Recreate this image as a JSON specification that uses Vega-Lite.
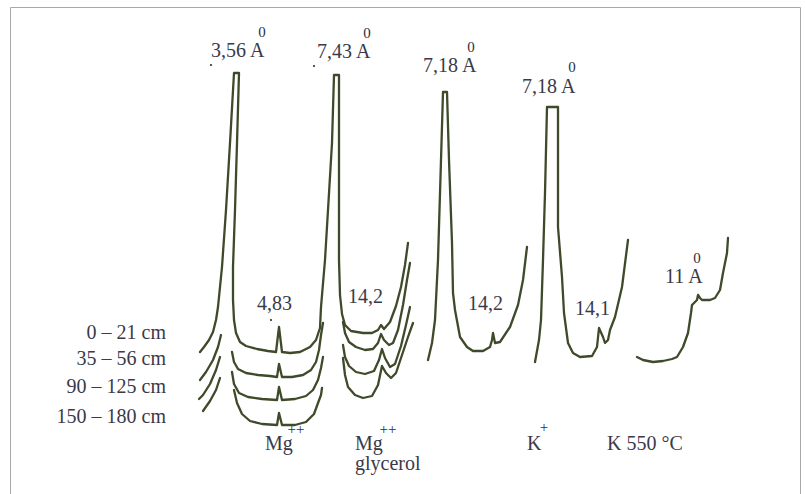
{
  "$schema": "https://vega.github.io/schema/vega-lite/v6.json",
  "width": 805,
  "height": 494,
  "autosize": {"type": "fit", "contains": "padding"},
  "padding": {"left": 10, "top": 7, "right": 5, "bottom": 0},
  "background": "#ffffff",
  "config": {"view": {"stroke": "#a8a8a8", "strokeWidth": 1}},
  "datasets": {
    "curves": [
      {"s":"A","i":1,"x":200,"y":352},{"s":"A","i":2,"x":204,"y":347},{"s":"A","i":3,"x":209,"y":340},{"s":"A","i":4,"x":213,"y":332},{"s":"A","i":5,"x":216,"y":320},{"s":"A","i":6,"x":218,"y":307},{"s":"A","i":7,"x":222,"y":267},{"s":"A","i":8,"x":226,"y":210},{"s":"A","i":9,"x":230,"y":143},{"s":"A","i":10,"x":234,"y":73},{"s":"A","i":11,"x":239,"y":73},{"s":"A","i":12,"x":237,"y":143},{"s":"A","i":13,"x":235,"y":210},{"s":"A","i":14,"x":233,"y":267},{"s":"A","i":15,"x":233,"y":300},{"s":"A","i":16,"x":234,"y":320},{"s":"A","i":17,"x":236,"y":333},{"s":"A","i":18,"x":240,"y":342},{"s":"A","i":19,"x":246,"y":346},{"s":"A","i":20,"x":257,"y":349},{"s":"A","i":21,"x":268,"y":351},{"s":"A","i":22,"x":276,"y":352},{"s":"A","i":23,"x":279,"y":327},{"s":"A","i":24,"x":282,"y":352},{"s":"A","i":25,"x":290,"y":353},{"s":"A","i":26,"x":300,"y":352},{"s":"A","i":27,"x":310,"y":347},{"s":"A","i":28,"x":316,"y":340},{"s":"A","i":29,"x":320,"y":328},{"s":"A","i":30,"x":321,"y":307},{"s":"A","i":31,"x":325,"y":260},{"s":"A","i":32,"x":328,"y":210},{"s":"A","i":33,"x":332,"y":143},{"s":"A","i":34,"x":334,"y":75},{"s":"A","i":35,"x":339,"y":75},{"s":"A","i":36,"x":339,"y":143},{"s":"A","i":37,"x":339,"y":210},{"s":"A","i":38,"x":339,"y":260},{"s":"A","i":39,"x":340,"y":295},{"s":"A","i":40,"x":342,"y":314},{"s":"A","i":41,"x":345,"y":325},{"s":"A","i":42,"x":351,"y":331},{"s":"A","i":43,"x":363,"y":333},{"s":"A","i":44,"x":372,"y":333},{"s":"A","i":45,"x":378,"y":330},{"s":"A","i":46,"x":381,"y":325},{"s":"A","i":47,"x":384,"y":329},{"s":"A","i":48,"x":390,"y":322},{"s":"A","i":49,"x":396,"y":306},{"s":"A","i":50,"x":401,"y":287},{"s":"A","i":51,"x":405,"y":265},{"s":"A","i":52,"x":408,"y":243},
      {"s":"F2","i":1,"x":221,"y":335},{"s":"F2","i":2,"x":218,"y":347},{"s":"F2","i":3,"x":213,"y":360},{"s":"F2","i":4,"x":206,"y":372},{"s":"F2","i":5,"x":200,"y":380},
      {"s":"F3","i":1,"x":220,"y":357},{"s":"F3","i":2,"x":216,"y":370},{"s":"F3","i":3,"x":210,"y":384},{"s":"F3","i":4,"x":203,"y":395},{"s":"F3","i":5,"x":199,"y":399},
      {"s":"F4","i":1,"x":220,"y":378},{"s":"F4","i":2,"x":216,"y":390},{"s":"F4","i":3,"x":210,"y":401},{"s":"F4","i":4,"x":203,"y":411},
      {"s":"B","i":1,"x":232,"y":352},{"s":"B","i":2,"x":234,"y":362},{"s":"B","i":3,"x":238,"y":369},{"s":"B","i":4,"x":246,"y":373},{"s":"B","i":5,"x":258,"y":375},{"s":"B","i":6,"x":270,"y":376},{"s":"B","i":7,"x":277,"y":377},{"s":"B","i":8,"x":279,"y":364},{"s":"B","i":9,"x":282,"y":377},{"s":"B","i":10,"x":292,"y":377},{"s":"B","i":11,"x":303,"y":375},{"s":"B","i":12,"x":311,"y":370},{"s":"B","i":13,"x":316,"y":362},{"s":"B","i":14,"x":319,"y":350},{"s":"B","i":15,"x":321,"y":335},{"s":"B","i":16,"x":323,"y":323},
      {"s":"C","i":1,"x":232,"y":372},{"s":"C","i":2,"x":234,"y":384},{"s":"C","i":3,"x":239,"y":393},{"s":"C","i":4,"x":248,"y":397},{"s":"C","i":5,"x":262,"y":399},{"s":"C","i":6,"x":277,"y":400},{"s":"C","i":7,"x":279,"y":387},{"s":"C","i":8,"x":282,"y":400},{"s":"C","i":9,"x":295,"y":399},{"s":"C","i":10,"x":306,"y":396},{"s":"C","i":11,"x":313,"y":390},{"s":"C","i":12,"x":318,"y":380},{"s":"C","i":13,"x":321,"y":368},{"s":"C","i":14,"x":323,"y":357},
      {"s":"D","i":1,"x":234,"y":390},{"s":"D","i":2,"x":237,"y":403},{"s":"D","i":3,"x":242,"y":414},{"s":"D","i":4,"x":250,"y":421},{"s":"D","i":5,"x":262,"y":424},{"s":"D","i":6,"x":277,"y":425},{"s":"D","i":7,"x":279,"y":413},{"s":"D","i":8,"x":282,"y":425},{"s":"D","i":9,"x":295,"y":425},{"s":"D","i":10,"x":306,"y":422},{"s":"D","i":11,"x":314,"y":414},{"s":"D","i":12,"x":318,"y":403},{"s":"D","i":13,"x":321,"y":395},{"s":"D","i":14,"x":322,"y":388},
      {"s":"G2","i":1,"x":343,"y":322},{"s":"G2","i":2,"x":345,"y":333},{"s":"G2","i":3,"x":349,"y":342},{"s":"G2","i":4,"x":356,"y":347},{"s":"G2","i":5,"x":365,"y":350},{"s":"G2","i":6,"x":373,"y":349},{"s":"G2","i":7,"x":378,"y":343},{"s":"G2","i":8,"x":381,"y":334},{"s":"G2","i":9,"x":384,"y":340},{"s":"G2","i":10,"x":389,"y":345},{"s":"G2","i":11,"x":393,"y":343},{"s":"G2","i":12,"x":398,"y":330},{"s":"G2","i":13,"x":403,"y":305},{"s":"G2","i":14,"x":407,"y":280},{"s":"G2","i":15,"x":410,"y":263},
      {"s":"G3","i":1,"x":343,"y":345},{"s":"G3","i":2,"x":345,"y":357},{"s":"G3","i":3,"x":349,"y":366},{"s":"G3","i":4,"x":356,"y":372},{"s":"G3","i":5,"x":365,"y":374},{"s":"G3","i":6,"x":374,"y":371},{"s":"G3","i":7,"x":379,"y":360},{"s":"G3","i":8,"x":382,"y":349},{"s":"G3","i":9,"x":385,"y":358},{"s":"G3","i":10,"x":390,"y":367},{"s":"G3","i":11,"x":395,"y":364},{"s":"G3","i":12,"x":401,"y":346},{"s":"G3","i":13,"x":406,"y":325},{"s":"G3","i":14,"x":410,"y":307},
      {"s":"G4","i":1,"x":343,"y":358},{"s":"G4","i":2,"x":345,"y":375},{"s":"G4","i":3,"x":348,"y":387},{"s":"G4","i":4,"x":355,"y":395},{"s":"G4","i":5,"x":363,"y":398},{"s":"G4","i":6,"x":372,"y":396},{"s":"G4","i":7,"x":378,"y":385},{"s":"G4","i":8,"x":382,"y":366},{"s":"G4","i":9,"x":386,"y":373},{"s":"G4","i":10,"x":391,"y":378},{"s":"G4","i":11,"x":396,"y":373},{"s":"G4","i":12,"x":402,"y":355},{"s":"G4","i":13,"x":408,"y":337},{"s":"G4","i":14,"x":413,"y":323},
      {"s":"P3","i":1,"x":428,"y":360},{"s":"P3","i":2,"x":432,"y":343},{"s":"P3","i":3,"x":435,"y":320},{"s":"P3","i":4,"x":438,"y":260},{"s":"P3","i":5,"x":441,"y":160},{"s":"P3","i":6,"x":443,"y":92},{"s":"P3","i":7,"x":447,"y":92},{"s":"P3","i":8,"x":449,"y":160},{"s":"P3","i":9,"x":452,"y":243},{"s":"P3","i":10,"x":453,"y":293},{"s":"P3","i":11,"x":455,"y":310},{"s":"P3","i":12,"x":460,"y":337},{"s":"P3","i":13,"x":467,"y":347},{"s":"P3","i":14,"x":473,"y":351},{"s":"P3","i":15,"x":483,"y":351},{"s":"P3","i":16,"x":490,"y":347},{"s":"P3","i":17,"x":492,"y":340},{"s":"P3","i":18,"x":493,"y":333},{"s":"P3","i":19,"x":495,"y":343},{"s":"P3","i":20,"x":500,"y":342},{"s":"P3","i":21,"x":510,"y":327},{"s":"P3","i":22,"x":518,"y":305},{"s":"P3","i":23,"x":523,"y":280},{"s":"P3","i":24,"x":527,"y":247},
      {"s":"P4","i":1,"x":535,"y":362},{"s":"P4","i":2,"x":539,"y":340},{"s":"P4","i":3,"x":541,"y":320},{"s":"P4","i":4,"x":543,"y":260},{"s":"P4","i":5,"x":545,"y":193},{"s":"P4","i":6,"x":547,"y":107},{"s":"P4","i":7,"x":558,"y":107},{"s":"P4","i":8,"x":558,"y":227},{"s":"P4","i":9,"x":562,"y":277},{"s":"P4","i":10,"x":564,"y":313},{"s":"P4","i":11,"x":568,"y":343},{"s":"P4","i":12,"x":573,"y":353},{"s":"P4","i":13,"x":580,"y":357},{"s":"P4","i":14,"x":592,"y":356},{"s":"P4","i":15,"x":597,"y":347},{"s":"P4","i":16,"x":599,"y":328},{"s":"P4","i":17,"x":603,"y":337},{"s":"P4","i":18,"x":605,"y":343},{"s":"P4","i":19,"x":608,"y":340},{"s":"P4","i":20,"x":610,"y":330},{"s":"P4","i":21,"x":615,"y":317},{"s":"P4","i":22,"x":622,"y":287},{"s":"P4","i":23,"x":628,"y":240},
      {"s":"P5","i":1,"x":637,"y":357},{"s":"P5","i":2,"x":643,"y":360},{"s":"P5","i":3,"x":653,"y":362},{"s":"P5","i":4,"x":663,"y":361},{"s":"P5","i":5,"x":672,"y":359},{"s":"P5","i":6,"x":677,"y":357},{"s":"P5","i":7,"x":683,"y":347},{"s":"P5","i":8,"x":688,"y":333},{"s":"P5","i":9,"x":691,"y":313},{"s":"P5","i":10,"x":692,"y":305},{"s":"P5","i":11,"x":697,"y":300},{"s":"P5","i":12,"x":698,"y":295},{"s":"P5","i":13,"x":700,"y":298},{"s":"P5","i":14,"x":702,"y":300},{"s":"P5","i":15,"x":710,"y":300},{"s":"P5","i":16,"x":715,"y":298},{"s":"P5","i":17,"x":720,"y":290},{"s":"P5","i":18,"x":723,"y":273},{"s":"P5","i":19,"x":727,"y":253},{"s":"P5","i":20,"x":728,"y":238}
    ],
    "labels": [
      {"g":"m","t":"3,56 A","x":211,"y":57},
      {"g":"m","t":"7,43 A","x":317,"y":58},
      {"g":"m","t":"7,18 A","x":423,"y":72},
      {"g":"m","t":"7,18 A","x":522,"y":93},
      {"g":"m","t":"4,83","x":257,"y":310},
      {"g":"m","t":"14,2","x":348,"y":303},
      {"g":"m","t":"14,2","x":468,"y":310},
      {"g":"m","t":"14,1","x":575,"y":315},
      {"g":"m","t":"11 A","x":665,"y":283},
      {"g":"m","t":"Mg","x":265,"y":450},
      {"g":"m","t":"Mg","x":355,"y":450},
      {"g":"m","t":"glycerol","x":355,"y":470},
      {"g":"m","t":"K","x":527,"y":450},
      {"g":"m","t":"K 550 °C","x":607,"y":450},
      {"g":"s","t":"0","x":262,"y":37},
      {"g":"s","t":"0","x":367,"y":38},
      {"g":"s","t":"0","x":471,"y":52},
      {"g":"s","t":"0","x":572,"y":72},
      {"g":"s","t":"0","x":697,"y":263},
      {"g":"s","t":"++","x":296,"y":434},
      {"g":"s","t":"++","x":388,"y":434},
      {"g":"s","t":"+","x":544,"y":432}
    ],
    "depths": [
      {"t":"0 – 21 cm","x":166,"y":339},
      {"t":"35 – 56 cm","x":166,"y":365},
      {"t":"90 – 125 cm","x":166,"y":393},
      {"t":"150 – 180 cm","x":166,"y":423}
    ],
    "dots": [
      {"x":211,"y":65},{"x":314,"y":66},{"x":271,"y":320}
    ]
  },
  "encoding": {
    "x": {"field": "x", "type": "quantitative", "scale": {"domain": [10, 800], "nice": false, "zero": false}, "axis": null},
    "y": {"field": "y", "type": "quantitative", "scale": {"domain": [7, 494], "nice": false, "zero": false, "reverse": true}, "axis": null}
  },
  "layer": [
    {
      "data": {"name": "curves"},
      "mark": {"type": "line", "color": "#3e4a2a", "strokeWidth": 2.3, "strokeJoin": "round", "strokeCap": "round"},
      "encoding": {
        "detail": {"field": "s", "type": "nominal"},
        "order": {"field": "i", "type": "quantitative"}
      }
    },
    {
      "data": {"name": "dots"},
      "mark": {"type": "point", "filled": true, "size": 5, "color": "#333333", "opacity": 1}
    },
    {
      "data": {"name": "labels"},
      "transform": [{"filter": "datum.g === 'm'"}],
      "mark": {"type": "text", "align": "left", "baseline": "alphabetic", "font": "Liberation Serif, serif", "fontSize": 20, "color": "#3a3a48"},
      "encoding": {"text": {"field": "t"}}
    },
    {
      "data": {"name": "labels"},
      "transform": [{"filter": "datum.g === 's'"}],
      "mark": {"type": "text", "align": "center", "baseline": "alphabetic", "font": "Liberation Serif, serif", "fontSize": 15, "color": "#2e2e3a"},
      "encoding": {"text": {"field": "t"}}
    },
    {
      "data": {"name": "depths"},
      "mark": {"type": "text", "align": "right", "baseline": "alphabetic", "font": "Liberation Serif, serif", "fontSize": 20, "color": "#3a3a48"},
      "encoding": {"text": {"field": "t"}}
    }
  ]
}
